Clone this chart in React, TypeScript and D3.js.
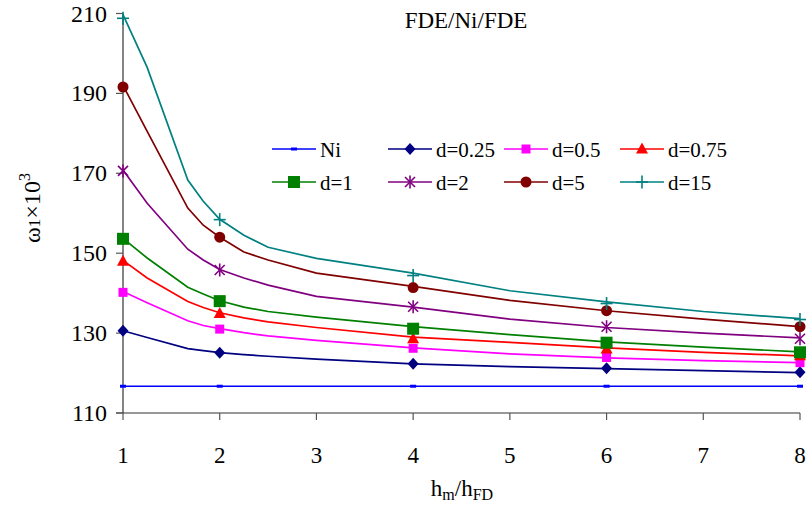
import React from "react";
import * as d3 from "d3";

const lineX = [1, 1.25, 1.67, 1.83, 2, 2.25, 2.5, 3, 4, 5, 6, 7, 8];
const markerX = [1, 2, 4, 6, 8];

const seriesNames = ["Ni", "d=0.25", "d=0.5", "d=0.75", "d=1", "d=2", "d=5", "d=15"];
const seriesColors = ["#0000FF", "#000080", "#FF00FF", "#FF0000", "#008000", "#800080", "#800000", "#008080"];
const seriesMarkers = ["dash", "diamond", "square", "triangle", "bigsquare", "asterisk", "circle", "plus"];

const lineNi = [116.7, 116.7, 116.7, 116.7, 116.7, 116.7, 116.7, 116.7, 116.7, 116.7, 116.7, 116.7, 116.7];
const line025 = [130.6, 128.9, 126.1, 125.6, 125.1, 124.6, 124.2, 123.5, 122.3, 121.6, 121.1, 120.6, 120.1];
const line05 = [140.4, 137.6, 133.1, 131.9, 131.1, 130.1, 129.3, 128.2, 126.3, 124.8, 123.8, 123.1, 122.6];
const line075 = [148.2, 143.8, 137.9, 136.4, 135.1, 133.8, 132.8, 131.4, 129.0, 127.7, 126.3, 125.2, 124.3];
const line1 = [153.7, 148.8, 141.5, 139.8, 138.1, 136.5, 135.4, 134.0, 131.6, 129.6, 127.8, 126.5, 125.3];
const line2 = [170.8, 162.5, 151.0, 148.3, 145.9, 143.8, 142.0, 139.2, 136.5, 133.5, 131.4, 130.0, 128.8];
const line5 = [192.0, 180.5, 161.3, 157.0, 154.0, 150.3, 148.3, 145.0, 141.7, 138.2, 135.6, 133.5, 131.6];
const line15 = [209.7, 196.5, 168.3, 163.0, 158.5, 154.5, 151.5, 148.7, 145.0, 140.6, 137.8, 135.4, 133.6];

const markNi = [116.7, 116.7, 116.7, 116.7, 116.7];
const mark025 = [130.6, 125.1, 122.3, 121.2, 120.2];
const mark05 = [140.2, 131.0, 126.2, 123.9, 122.6];
const mark075 = [148.0, 134.9, 128.6, 126.0, 124.3];
const mark1 = [153.6, 138.0, 131.1, 127.6, 125.2];
const mark2 = [170.6, 145.8, 136.6, 131.6, 128.6];
const mark5 = [191.6, 154.0, 141.4, 135.6, 131.6];
const mark15 = [208.8, 158.4, 144.4, 137.4, 133.4];

const lineValues = [lineNi, line025, line05, line075, line1, line2, line5, line15];
const markerValues = [markNi, mark025, mark05, mark075, mark1, mark2, mark5, mark15];

const xTicks = [1, 2, 3, 4, 5, 6, 7, 8];
const yTicks = [110, 130, 150, 170, 190, 210];

const title = "FDE/Ni/FDE";

const FONT = "Liberation Serif";

function Marker({ type, x, y, color }: { type: string; x: number; y: number; color: string }) {
  switch (type) {
    case "dash":
      return <rect x={x - 3} y={y - 1.5} width={6} height={3} fill={color} />;
    case "diamond":
      return <path d={`M${x},${y - 6}L${x + 5.5},${y}L${x},${y + 6}L${x - 5.5},${y}Z`} fill={color} />;
    case "square":
      return <rect x={x - 4.5} y={y - 4.5} width={9} height={9} fill={color} />;
    case "bigsquare":
      return <rect x={x - 6} y={y - 6} width={12} height={12} fill={color} />;
    case "triangle":
      return <path d={`M${x},${y - 6.5}L${x + 6},${y + 4.5}L${x - 6},${y + 4.5}Z`} fill={color} />;
    case "circle":
      return <circle cx={x} cy={y} r={5.5} fill={color} />;
    case "asterisk":
      return (
        <g stroke={color} strokeWidth={1.6}>
          <line x1={x - 5} y1={y - 5} x2={x + 5} y2={y + 5} />
          <line x1={x - 5} y1={y + 5} x2={x + 5} y2={y - 5} />
          <line x1={x} y1={y - 6.5} x2={x} y2={y + 6.5} />
        </g>
      );
    case "plus":
      return (
        <g stroke={color} strokeWidth={1.6}>
          <line x1={x - 6} y1={y} x2={x + 6} y2={y} />
          <line x1={x} y1={y - 6.5} x2={x} y2={y + 6.5} />
        </g>
      );
    default:
      return null;
  }
}

export default function App() {
  const width = 807;
  const height = 506;
  const x = d3.scaleLinear().domain([1, 8]).range([123, 800]);
  const y = d3.scaleLinear().domain([110, 210]).range([413, 13.5]);

  const line = d3
    .line<number>()
    .x((_, i) => x(lineX[i]))
    .y((d) => y(d));

  const legendCols = [272, 388, 504, 620];
  const legendRows = [149, 182];
  const ts = { fontFamily: FONT } as React.CSSProperties;

  return (
    <svg
      width={width}
      height={height}
      style={{ position: "absolute", left: 0, top: 0, background: "#fff", fontFamily: FONT }}
    >
      <rect x={0} y={0} width={width} height={height} fill="#fff" />
      {/* axes */}
      <line x1={123} y1={y(210)} x2={123} y2={y(110)} stroke="#333" strokeWidth={1.2} />
      <line x1={116} y1={y(110)} x2={800} y2={y(110)} stroke="#333" strokeWidth={1.2} />
      {yTicks.map((t) => (
        <g key={"yt" + t}>
          <line x1={116} x2={123} y1={y(t)} y2={y(t)} stroke="#555" strokeWidth={1.2} />
          <text x={107} y={y(t) + 8} fontSize={24} textAnchor="end" fill="#000" style={ts}>
            {t}
          </text>
        </g>
      ))}
      {xTicks.map((t) => (
        <g key={"xt" + t}>
          <line x1={x(t)} x2={x(t)} y1={y(110)} y2={y(110) + 7} stroke="#555" strokeWidth={1.2} />
          <text x={x(t)} y={463} fontSize={23} textAnchor="middle" fill="#000" style={ts}>
            {t}
          </text>
        </g>
      ))}

      {/* lines */}
      {lineValues.map((vals, si) => (
        <path key={"l" + si} d={line(vals) || ""} fill="none" stroke={seriesColors[si]} strokeWidth={1.7} />
      ))}
      {/* markers */}
      {markerValues.map((vals, si) =>
        vals.map((v, i) => (
          <Marker key={"m" + si + "-" + i} type={seriesMarkers[si]} x={x(markerX[i])} y={y(v)} color={seriesColors[si]} />
        ))
      )}

      {/* legend */}
      {seriesNames.map((name, i) => {
        const cx = legendCols[i % 4];
        const cy = legendRows[Math.floor(i / 4)];
        return (
          <g key={"lg" + i}>
            <line x1={cx} x2={cx + 44} y1={cy} y2={cy} stroke={seriesColors[i]} strokeWidth={1.7} />
            <Marker type={seriesMarkers[i]} x={cx + 22} y={cy} color={seriesColors[i]} />
            <text x={cx + 48} y={cy + 7.5} fontSize={21} fill="#000" style={ts}>
              {name}
            </text>
          </g>
        );
      })}

      {/* title */}
      <text x={466} y={28} fontSize={23} textAnchor="middle" fill="#000" style={ts}>
        {title}
      </text>

      {/* y label */}
      <text transform="translate(40,208) rotate(-90)" fontSize={24} textAnchor="middle" fill="#000" style={ts}>
        ω<tspan fontSize={17}>1</tspan>×10
        <tspan fontSize={16} dy={-10}>3</tspan>
      </text>

      {/* x label */}
      <text x={462} y={496} fontSize={23} textAnchor="middle" fill="#000" style={ts}>
        h<tspan fontSize={16} dy={4}>m</tspan>
        <tspan dy={-4}>/h</tspan>
        <tspan fontSize={16} dy={4}>FD</tspan>
      </text>
    </svg>
  );
}
